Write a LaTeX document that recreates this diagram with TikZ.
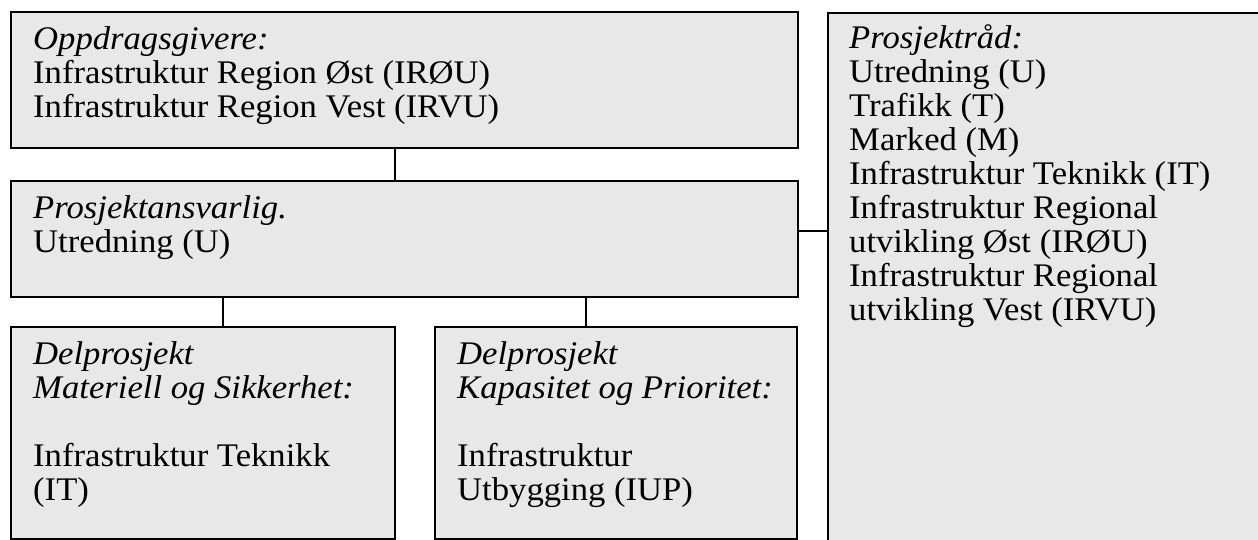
\documentclass[tikz,border=0pt]{standalone}
\usepackage{fontspec}
\setmainfont{Liberation Serif}[FakeStretch=1.05]
\usetikzlibrary{calc}
\definecolor{boxfill}{HTML}{E8E8E8}
\begin{document}
\begin{tikzpicture}[x=1pt,y=-1pt,
  box/.style={draw=black,fill=boxfill,line width=1.6pt,rectangle,inner sep=0pt,outer sep=0pt,anchor=north west},
  txt/.style={anchor=north west,inner sep=0pt,align=left,font=\fontsize{33}{34}\selectfont},
  link/.style={draw=black,line width=1.3pt}]
\useasboundingbox (0,0) rectangle (1258,539);
\clip (0,0) rectangle (1258,539);
\fill[white] (0,0) rectangle (1258,539);
% boxes
\node[box,minimum width=787pt,minimum height=136pt] (top) at (11,12) {};
\node[box,minimum width=787pt,minimum height=116pt] (mid) at (11,181) {};
\node[box,minimum width=384pt,minimum height=212pt] (bl) at (11,327) {};
\node[box,minimum width=362pt,minimum height=212pt] (br) at (435,327) {};
\node[box,minimum width=440pt,minimum height=530pt] (rt) at (828,13) {};
% texts
\node[txt] (ttop) at (33,26) {\textit{Oppdragsgivere:}\\Infrastruktur Region Øst (IRØU)\\Infrastruktur Region Vest (IRVU)};
\node[txt] (tmid) at (33,195) {\textit{Prosjektansvarlig.}\\Utredning (U)};
\node[txt] (tbl) at (33,341) {\textit{Delprosjekt}\\\textit{Materiell og Sikkerhet:}\\[34pt]Infrastruktur Teknikk\\(IT)};
\node[txt] (tbr) at (457,341) {\textit{Delprosjekt}\\\textit{Kapasitet og Prioritet:}\\[34pt]Infrastruktur\\Utbygging (IUP)};
\node[txt] (trt) at (849,24) {\textit{Prosjektråd:}\\Utredning (U)\\Trafikk (T)\\Marked (M)\\Infrastruktur Teknikk (IT)\\Infrastruktur Regional\\utvikling Øst (IRØU)\\Infrastruktur Regional\\utvikling Vest (IRVU)};
% connectors
\coordinate (c1) at (bl.east |- top.south);
\coordinate (c2) at (bl.east |- mid.north);
\draw[link] (c1) -- (c2);
\coordinate (c3) at (223,0);
\draw[link] (mid.south -| c3) -- (bl.north -| c3);
\coordinate (c4) at (586,0);
\draw[link] (mid.south -| c4) -- (br.north -| c4);
\coordinate (c5) at (0,231);
\draw[link] (mid.east |- c5) -- (rt.west |- c5);
\end{tikzpicture}
\end{document}
